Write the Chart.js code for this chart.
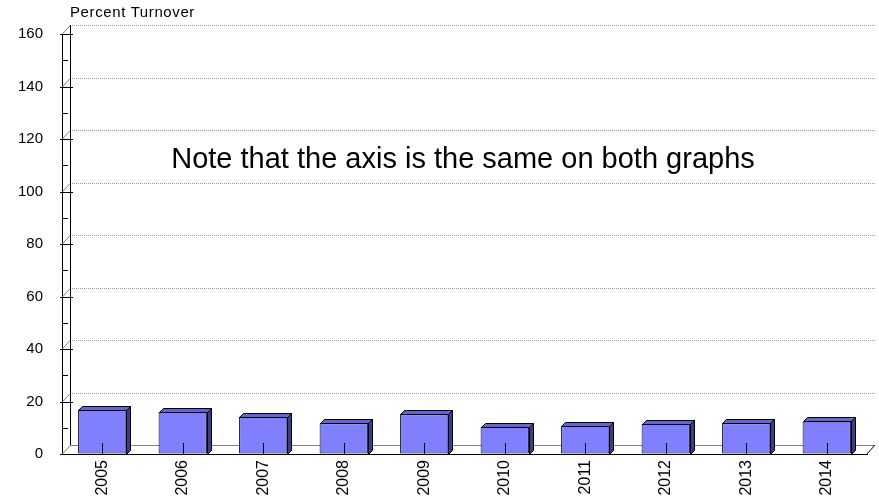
<!DOCTYPE html>
<html>
<head>
<meta charset="utf-8">
<script src="https://cdn.jsdelivr.net/npm/chart.js@4"></script>
<style>
  html, body { margin: 0; padding: 0; background: #fff; }
  canvas { display: block; }
</style>
</head>
<body>
<canvas id="turnoverChart" width="879" height="502"></canvas>
<script>
// data
var years = ["2005", "2006", "2007", "2008", "2009", "2010", "2011", "2012", "2013", "2014"];
var turnover = [16.8, 16.1, 14.2, 11.7, 15.1, 10.4, 10.8, 11.4, 11.7, 12.4];
var yTicks = [0, 20, 40, 60, 80, 100, 120, 140, 160];

var FONT = "'Liberation Sans', Arial, sans-serif";
var DX = 8, DY = 9;      // back wall offset
var BD = 4;              // bar depth

// draws the fake 3d bits: back grid, floor, bar tops / sides, ticks, texts
var fake3d = {
    id: "fake3d",
    beforeDatasetsDraw: function (chart) {
        var ctx = chart.ctx, ys = chart.scales.y;
        var l = chart.chartArea.left, r = chart.chartArea.right;
        var b = ys.getPixelForValue(0);
        ctx.save();
        ctx.lineWidth = 1;
        // back gridlines + wall diagonals
        yTicks.forEach(function (v) {
            var y = Math.round(ys.getPixelForValue(v)) + 0.5;
            ctx.strokeStyle = v === 0 ? "#808080" : "#9a9a9a";
            ctx.setLineDash(v === 0 ? [] : [1, 1]);
            ctx.beginPath();
            ctx.moveTo(l + DX, y - DY);
            ctx.lineTo(r + DX, y - DY);
            ctx.stroke();
            ctx.setLineDash([]);
            ctx.strokeStyle = "#808080";
            ctx.beginPath();
            ctx.moveTo(l, y);
            ctx.lineTo(l + DX, y - DY);
            ctx.stroke();
        });
        // back edge of the left wall
        ctx.strokeStyle = "#000";
        ctx.beginPath();
        ctx.moveTo(l + DX + 0.5, ys.getPixelForValue(160) - DY);
        ctx.lineTo(l + DX + 0.5, b - DY);
        ctx.stroke();
        // floor right edge
        ctx.beginPath();
        ctx.moveTo(r, b);
        ctx.lineTo(r + DX, b - DY);
        ctx.stroke();
        ctx.restore();
    },
    afterDatasetsDraw: function (chart) {
        var ctx = chart.ctx, xs = chart.scales.x, ys = chart.scales.y;
        var l = chart.chartArea.left;
        var b = ys.getPixelForValue(0);
        ctx.save();
        ctx.lineWidth = 1;
        ctx.strokeStyle = "#000";
        chart.getDatasetMeta(0).data.forEach(function (bar) {
            var x0 = Math.round(bar.x - bar.width / 2) + 0.5;
            var x1 = Math.round(bar.x + bar.width / 2) + 0.5;
            var t = Math.round(bar.y) + 0.5;
            var bb = Math.round(bar.base) + 0.5;
            // top face
            ctx.fillStyle = "#6464d8";
            ctx.beginPath();
            ctx.moveTo(x0, t);
            ctx.lineTo(x0 + BD, t - BD);
            ctx.lineTo(x1 + BD, t - BD);
            ctx.lineTo(x1, t);
            ctx.closePath();
            ctx.fill();
            ctx.stroke();
            // side face
            ctx.fillStyle = "#3c3c8c";
            ctx.beginPath();
            ctx.moveTo(x1, t);
            ctx.lineTo(x1 + BD, t - BD);
            ctx.lineTo(x1 + BD, bb - BD);
            ctx.lineTo(x1, bb);
            ctx.closePath();
            ctx.fill();
            ctx.stroke();
        });
        // category ticks pointing up into the plot
        xs.ticks.forEach(function (tk, i) {
            var x = Math.round(xs.getPixelForTick(i)) + 0.5;
            ctx.beginPath();
            ctx.moveTo(x, b);
            ctx.lineTo(x, b - 11);
            ctx.stroke();
        });
        // value ticks on the wall
        for (var v = 0; v <= 160; v += 10) {
            var y = Math.round(ys.getPixelForValue(v)) + 0.5;
            ctx.beginPath();
            if (v % 20 === 0) {
                ctx.moveTo(l - 2, y);
                ctx.lineTo(l + 11, y);
            } else {
                ctx.moveTo(l, y);
                ctx.lineTo(l + 6, y);
            }
            ctx.stroke();
        }
        // texts
        ctx.fillStyle = "#000";
        ctx.textBaseline = "alphabetic";
        ctx.textAlign = "left";
        ctx.font = "15px " + FONT;
        ctx.letterSpacing = "0.6px";
        ctx.fillText("Percent Turnover", 70, 17);
        ctx.letterSpacing = "0px";
        ctx.textAlign = "center";
        ctx.font = "29px " + FONT;
        ctx.fillText("Note that the axis is the same on both graphs", 463, 168);
        ctx.restore();
    }
};

var ctx = document.getElementById("turnoverChart").getContext("2d");
new Chart(ctx, {
    type: "bar",
    data: {
        labels: years,
        datasets: [{
            label: "Percent Turnover",
            data: turnover,
            backgroundColor: "#8080ff",
            borderColor: "#000",
            borderWidth: 1,
            borderSkipped: false,
            barPercentage: 0.6,
            categoryPercentage: 1.0
        }]
    },
    options: {
        responsive: false,
        animation: false,
        layout: { padding: { top: 34, right: 12, left: 0, bottom: 0 } },
        plugins: {
            legend: { display: false },
            tooltip: { enabled: false }
        },
        scales: {
            x: {
                grid: { drawOnChartArea: false, drawTicks: false },
                border: { display: true, color: "#000", width: 1 },
                ticks: {
                    minRotation: 90,
                    maxRotation: 90,
                    padding: 6,
                    color: "#000",
                    font: { family: FONT, size: 16 }
                },
                afterFit: function (scale) { scale.height = 48; }
            },
            y: {
                min: 0,
                max: 160,
                grid: { drawOnChartArea: false, drawTicks: false },
                border: { display: true, color: "#000", width: 1 },
                ticks: {
                    stepSize: 10,
                    autoSkip: false,
                    padding: 19,
                    color: "#000",
                    font: { family: FONT, size: 15 },
                    callback: function (v) { return v % 20 === 0 ? v : ""; }
                },
                afterFit: function (scale) { scale.width = 62; }
            }
        }
    },
    plugins: [fake3d]
});
</script>
</body>
</html>
